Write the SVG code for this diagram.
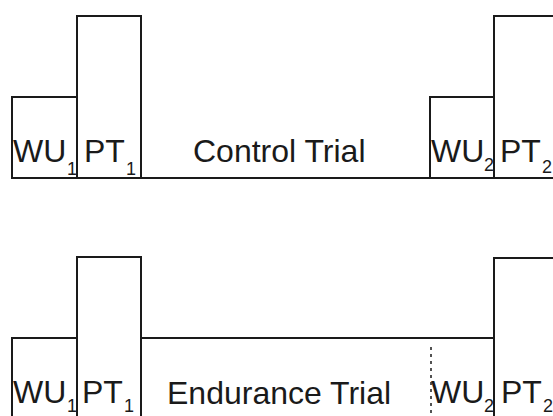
<svg xmlns="http://www.w3.org/2000/svg" width="553" height="416" viewBox="0 0 553 416">
  <style>
    .edge { fill: none; stroke: #1a1a1a; stroke-width: 2; stroke-linecap: square; }
    .dots { fill: none; stroke: #1a1a1a; stroke-width: 1.5; stroke-dasharray: 3 4; }
    .lbl { font-family: "Liberation Sans", Arial, sans-serif; font-size: 32px; fill: #1a1a1a; }
    .sub { font-family: "Liberation Sans", Arial, sans-serif; font-size: 18px; fill: #1a1a1a; }
  </style>
  <rect width="553" height="416" fill="#ffffff"/>

  <!-- Control protocol (top row) -->
  <g id="control-wu1">
    <path class="edge" d="M12,178 V97 H77"/>
    <text class="lbl" x="13" y="162">WU</text>
    <text class="sub" x="67" y="175">1</text>
  </g>
  <g id="control-pt1">
    <path class="edge" d="M77,178 V16 H141 V178"/>
    <text class="lbl" x="84" y="162">PT</text>
    <text class="sub" x="126" y="175">1</text>
  </g>
  <g id="control-trial">
    <text class="lbl" x="193" y="162">Control Trial</text>
  </g>
  <g id="control-wu2">
    <path class="edge" d="M430,178 V97 H494"/>
    <text class="lbl" x="431" y="162">WU</text>
    <text class="sub" x="484" y="171">2</text>
  </g>
  <g id="control-pt2">
    <path class="edge" d="M494,178 V16 H553"/>
    <text class="lbl" x="500" y="162">PT</text>
    <text class="sub" x="542" y="173">2</text>
  </g>

  <!-- Endurance protocol (bottom row) -->
  <g id="endurance-wu1">
    <path class="edge" d="M12,416 V338 H77"/>
    <text class="lbl" x="13" y="403">WU</text>
    <text class="sub" x="67" y="412">1</text>
  </g>
  <g id="endurance-pt1">
    <path class="edge" d="M77,416 V257 H141 V416"/>
    <text class="lbl" x="82" y="403">PT</text>
    <text class="sub" x="124" y="412">1</text>
  </g>
  <g id="endurance-trial">
    <text class="lbl" x="167" y="404">Endurance Trial</text>
  </g>
  <g id="endurance-wu2">
    <text class="lbl" x="431" y="403">WU</text>
    <text class="sub" x="484" y="412">2</text>
  </g>
  <g id="endurance-pt2">
    <path class="edge" d="M494,416 V258 H553"/>
    <text class="lbl" x="501" y="403">PT</text>
    <text class="sub" x="543" y="412">2</text>
  </g>

  <!-- Time axes and trial level lines -->
  <g id="connectors">
    <path class="edge" d="M12,178 H553"/>
    <path class="edge" d="M141,338 H494"/>
    <path class="dots" d="M431,347 V416"/>
  </g>
</svg>
